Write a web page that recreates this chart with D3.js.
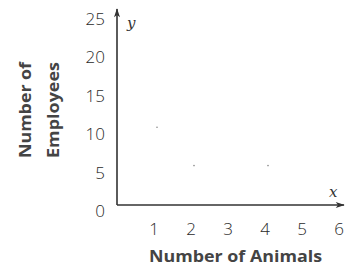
<!DOCTYPE html>
<html>
<head>
<meta charset="utf-8">
<script src="https://cdn.jsdelivr.net/npm/d3@7"></script>
<style>
  body { margin: 0; background: #fff; }
  svg { display: block; }
  .tick-label { font-family: "Open Sans", sans-serif; font-weight: 300; font-size: 17px; fill: #2a2a2a; }
  .axis-title { font-family: "Open Sans", sans-serif; font-weight: 700; font-size: 16px; fill: #444; }
  .var { font-family: "DejaVu Serif", serif; font-style: italic; font-size: 15px; fill: #333; }
</style>
</head>
<body>
<div class="graph"></div>
<script>
const width = 347;
const height = 268;

// values
const xTicks = [1, 2, 3, 4, 5, 6];
const yTicks = [0, 5, 10, 15, 20, 25];
const pointX = [1, 2, 4];
const pointY = [10, 5, 5];

const canvas = d3.select(".graph")
  .append("svg")
  .attr("width", width)
  .attr("height", height);

const x = d3.scaleLinear()
            .domain([0, 6])
            .range([117, 339]);

const y = d3.scaleLinear()
            .domain([0, 25])
            .range([205, 13]);

// arrow heads
const defs = canvas.append("defs");
defs.append("marker")
    .attr("id", "arrow")
    .attr("viewBox", "0 -4 12 8")
    .attr("refX", 11)
    .attr("refY", 0)
    .attr("markerWidth", 10)
    .attr("markerHeight", 6)
    .attr("markerUnits", "userSpaceOnUse")
    .attr("orient", "auto")
  .append("path")
    .attr("d", "M0,-4L12,0L0,4L3,0Z")
    .attr("fill", "#333");

// x axis line
canvas.append("line")
      .attr("x1", x(0))
      .attr("y1", y(0))
      .attr("x2", 344)
      .attr("y2", y(0))
      .attr("stroke", "#333")
      .attr("stroke-width", 1.6)
      .attr("marker-end", "url(#arrow)");

// y axis line
canvas.append("line")
      .attr("x1", x(0))
      .attr("y1", y(0))
      .attr("x2", x(0))
      .attr("y2", 9)
      .attr("stroke", "#333")
      .attr("stroke-width", 1.6)
      .attr("marker-end", "url(#arrow)");

canvas.selectAll(".xt")
  .data(xTicks)
  .enter().append("text")
    .attr("class", "tick-label xt")
    .attr("x", d => x(d))
    .attr("y", 235)
    .attr("text-anchor", "middle")
    .text(d => d);

canvas.selectAll(".yt")
  .data(yTicks)
  .enter().append("text")
    .attr("class", "tick-label yt")
    .attr("x", 105)
    .attr("y", d => y(d) + 12)
    .attr("text-anchor", "end")
    .text(d => d);

// faint points
canvas.selectAll("circle")
  .data(pointX)
  .enter().append("circle")
    .attr("cx", d => x(d) + 3)
    .attr("cy", (d, i) => y(pointY[i]) - 1)
    .attr("r", 0.8)
    .attr("fill", "#888");

canvas.append("text")
      .attr("class", "var")
      .attr("x", 127)
      .attr("y", 28)
      .text("y");

canvas.append("text")
      .attr("class", "var")
      .attr("x", 329)
      .attr("y", 197)
      .text("x");

canvas.append("text")
      .attr("class", "axis-title")
      .attr("x", 149)
      .attr("y", 262)
      .attr("textLength", 173)
      .attr("lengthAdjust", "spacingAndGlyphs")
      .text("Number of Animals");

const yTitle = canvas.append("text")
      .attr("class", "axis-title")
      .attr("transform", "translate(31, 158) rotate(-90)");
yTitle.append("tspan")
      .attr("x", 0).attr("y", 0)
      .attr("textLength", 96)
      .attr("lengthAdjust", "spacingAndGlyphs")
      .text("Number of");
yTitle.append("tspan")
      .attr("x", 0).attr("y", 28)
      .attr("textLength", 96)
      .attr("lengthAdjust", "spacingAndGlyphs")
      .text("Employees");
</script>
</body>
</html>
